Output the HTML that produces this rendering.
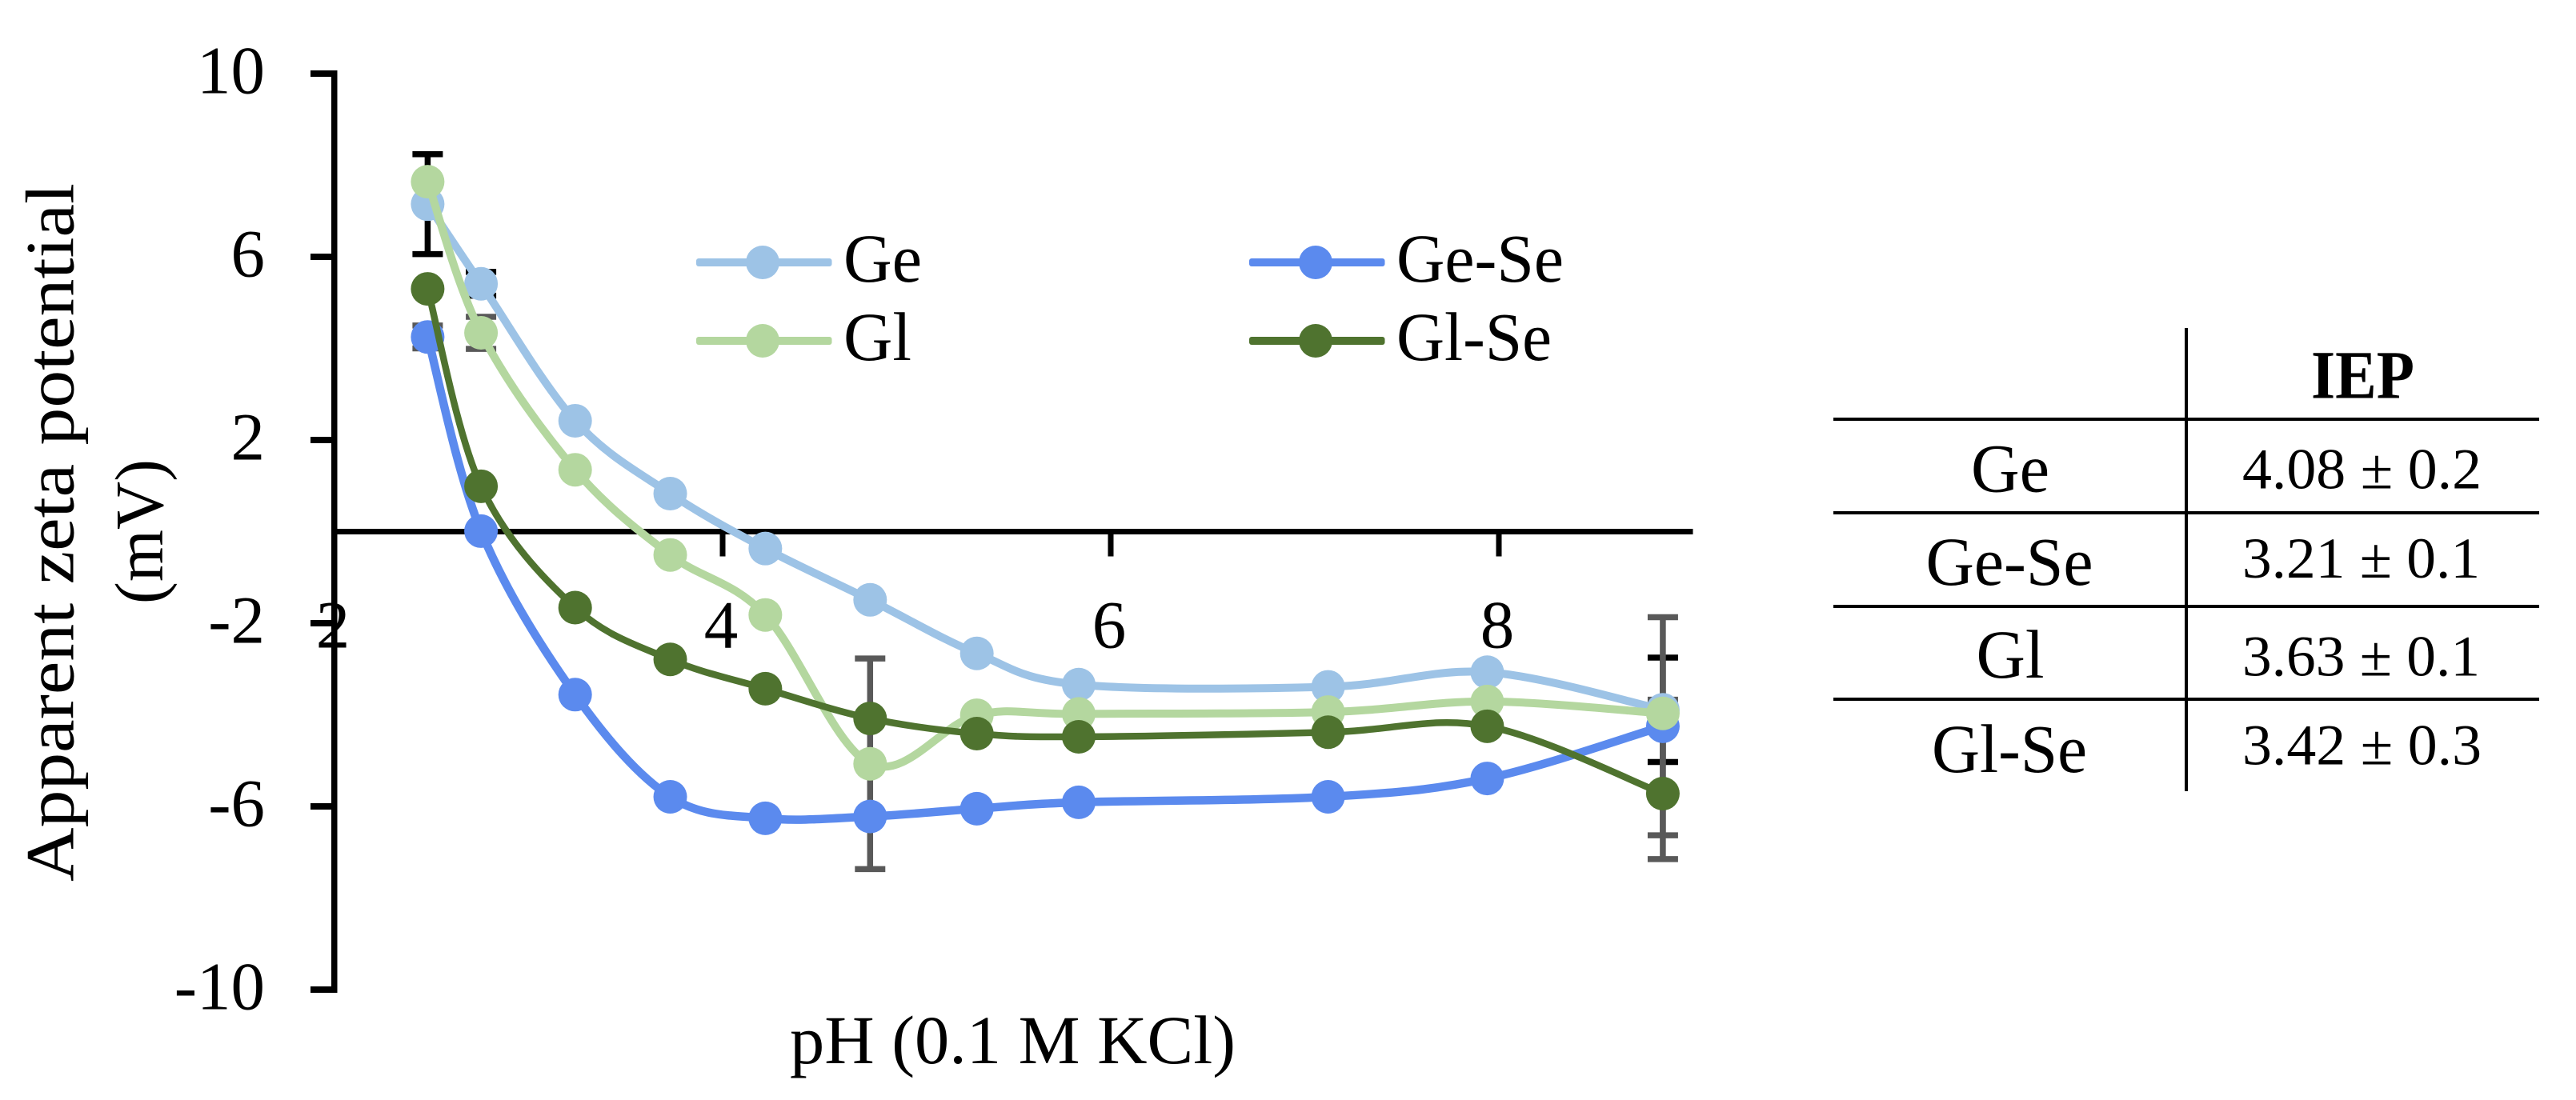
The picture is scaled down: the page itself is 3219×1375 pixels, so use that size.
<!DOCTYPE html>
<html lang="en">
<head>
<meta charset="utf-8">
<title>Apparent zeta potential vs pH</title>
<style>
html,body{margin:0;padding:0;background:#fff;width:3219px;height:1375px;overflow:hidden}
svg{display:block}
text{font-family:"Liberation Serif",serif;fill:#000}
</style>
</head>
<body>
<svg id="chart" xmlns="http://www.w3.org/2000/svg" width="3219" height="1375" viewBox="0 0 3219 1375">
  <rect x="0" y="0" width="3219" height="1375" fill="#fff"/>
  <g id="errorbars"></g>
  <g id="axes"></g>
  <g id="series"></g>
  <g id="legend"></g>
  <text transform="translate(91.5 1102) rotate(-90)" font-size="86" textLength="873" lengthAdjust="spacingAndGlyphs">Apparent zeta potential</text>
  <text transform="translate(203 755) rotate(-90)" font-size="86" textLength="181" lengthAdjust="spacingAndGlyphs">(mV)</text>
  <text x="987" y="1329" font-size="86" textLength="557" lengthAdjust="spacingAndGlyphs">pH (0.1 M KCl)</text>

  <g stroke="#000" stroke-width="4">
    <line x1="2732" y1="410" x2="2732" y2="989"/>
    <line x1="2291" y1="524" x2="3173" y2="524"/>
    <line x1="2291" y1="641" x2="3173" y2="641"/>
    <line x1="2291" y1="758" x2="3173" y2="758"/>
    <line x1="2291" y1="874" x2="3173" y2="874"/>
  </g>
  <g stroke="none">
    <text x="2888" y="497.5" font-size="86" font-weight="bold" textLength="129" lengthAdjust="spacingAndGlyphs">IEP</text>
    <text x="2463" y="614.5" font-size="86" textLength="98" lengthAdjust="spacingAndGlyphs">Ge</text>
    <text x="2406.5" y="731" font-size="86" textLength="209" lengthAdjust="spacingAndGlyphs">Ge-Se</text>
    <text x="2469.5" y="847" font-size="86" textLength="85" lengthAdjust="spacingAndGlyphs">Gl</text>
    <text x="2414" y="965" font-size="86" textLength="194" lengthAdjust="spacingAndGlyphs">Gl-Se</text>
    <text x="2802" y="610.5" font-size="72" textLength="299" lengthAdjust="spacingAndGlyphs">4.08 ± 0.2</text>
    <text x="2802" y="722" font-size="72" textLength="297" lengthAdjust="spacingAndGlyphs">3.21 ± 0.1</text>
    <text x="2802" y="844.5" font-size="72" textLength="297" lengthAdjust="spacingAndGlyphs">3.63 ± 0.1</text>
    <text x="2802" y="955.5" font-size="72" textLength="299" lengthAdjust="spacingAndGlyphs">3.42 ± 0.3</text>
  </g>
</svg>
<script>
const phValues = [2.48, 2.755, 3.24, 3.73, 4.22, 4.76, 5.31, 5.835, 7.12, 7.94, 8.845];
const geValues = [7.15, 5.41, 2.42, 0.83, -0.37, -1.49, -2.66, -3.34, -3.39, -3.07, -3.89];
const geSeValues = [4.25, 0.01, -3.56, -5.79, -6.26, -6.22, -6.05, -5.91, -5.79, -5.39, -4.25];
const glValues = [7.64, 4.34, 1.35, -0.51, -1.82, -5.07, -4.01, -3.98, -3.94, -3.71, -3.97];
const glSeValues = [5.30, 0.99, -1.66, -2.79, -3.43, -4.08, -4.41, -4.48, -4.38, -4.25, -5.72];
const geErrors = [1.09, 0.26, null, null, null, null, null, null, null, null, 1.14];
const geSeErrors = [0.25, null, null, null, null, null, null, null, null, null, 2.38];
const glErrors = [null, 0.35, null, null, null, 2.30, null, null, null, null, 0.30];
const glSeErrors = [null, null, null, null, null, null, null, null, null, null, 1.43];
const xTickValues = [4, 6, 8];
const xLabelValues = ["2", "4", "6", "8"];
const yTickValues = [10, 6, 2, -2, -6, -10];
const seriesNames = ["Ge", "Ge-Se", "Gl", "Gl-Se"];

const SVG_NS = "http://www.w3.org/2000/svg";
const xScale = function (v) { return 418 + (v - 2) * 242.5; };
const yScale = function (v) { return 664.5 - v * 57.25; };
const slug = function (s) { return s.toLowerCase(); };

const seriesStyle = [
  { values: geValues, errors: geErrors, color: "#9DC3E6", width: 10, errColor: "#000000" },
  { values: geSeValues, errors: geSeErrors, color: "#5B8AEE", width: 10.5, errColor: "#595959" },
  { values: glValues, errors: glErrors, color: "#B4D79F", width: 10, errColor: "#595959" },
  { values: glSeValues, errors: glSeErrors, color: "#4F732F", width: 8.5, errColor: "#595959" }
];

function make(tag, attrs, parent) {
  const node = document.createElementNS(SVG_NS, tag);
  Object.keys(attrs).forEach(function (k) { node.setAttribute(k, attrs[k]); });
  parent.appendChild(node);
  return node;
}

function smoothPath(points) {
  let d = "M" + points[0][0].toFixed(2) + " " + points[0][1].toFixed(2);
  for (let i = 0; i < points.length - 1; i++) {
    const p0 = points[Math.max(i - 1, 0)];
    const p1 = points[i];
    const p2 = points[i + 1];
    const p3 = points[Math.min(i + 2, points.length - 1)];
    const c1x = p1[0] + (p2[0] - p0[0]) / 6;
    const c1y = p1[1] + (p2[1] - p0[1]) / 6;
    const c2x = p2[0] - (p3[0] - p1[0]) / 6;
    const c2y = p2[1] - (p3[1] - p1[1]) / 6;
    d += "C" + c1x.toFixed(2) + " " + c1y.toFixed(2) + " " + c2x.toFixed(2) + " " + c2y.toFixed(2) + " " + p2[0].toFixed(2) + " " + p2[1].toFixed(2);
  }
  return d;
}

/* error bars: black first, grey above */
const errorLayer = document.getElementById("errorbars");
[0, 1, 2, 3].forEach(function (si) {
  const s = seriesStyle[si];
  s.errors.forEach(function (err, i) {
    if (err === null) return;
    const cx = xScale(phValues[i]);
    const top = yScale(s.values[i] + err);
    const bot = yScale(s.values[i] - err);
    const bar = make("path", {
      d: "M" + cx + " " + top + "V" + bot + "M" + (cx - 19) + " " + top + "H" + (cx + 19) + "M" + (cx - 19) + " " + bot + "H" + (cx + 19),
      stroke: s.errColor, "stroke-width": 7.5, fill: "none"
    }, errorLayer);
    
    
  });
});

/* axes */
const axesLayer = document.getElementById("axes");
const yAxisLine = make("rect", { x: xScale(2) - 4, y: yScale(10) - 4, width: 7.5, height: yScale(-10) - yScale(10) + 8, fill: "#000" }, axesLayer);


const xAxisLine = make("rect", { x: xScale(2) - 4, y: yScale(0) - 3.5, width: xScale(9) - xScale(2) + 4, height: 7, fill: "#000" }, axesLayer);



yTickValues.forEach(function (v) {
  const tick = make("rect", { x: 388, y: yScale(v) - 4, width: 28, height: 8, fill: "#000" }, axesLayer);
  
  
  const label = make("text", { x: 331, y: yScale(v) + 24.5, "font-size": 85, "text-anchor": "end" }, axesLayer);
  
  
  label.textContent = String(v);
});

xTickValues.forEach(function (v) {
  const tick = make("rect", { x: xScale(v) - 3.5, y: yScale(0), width: 7, height: 31, fill: "#000" }, axesLayer);
  
  
});
xLabelValues.forEach(function (v) {
  const label = make("text", { x: xScale(Number(v)) - 2, y: 809.5, "font-size": 85, "text-anchor": "middle" }, axesLayer);
  
  
  label.textContent = v;
});

/* series */
const seriesLayer = document.getElementById("series");
seriesStyle.forEach(function (s, si) {
  const group = make("g", {}, seriesLayer);
  
  
  const pts = s.values.map(function (v, i) { return [xScale(phValues[i]), yScale(v)]; });
  const line = make("path", { d: smoothPath(pts), fill: "none", stroke: s.color, "stroke-width": s.width, "stroke-linecap": "round" }, group);
  
  
  pts.forEach(function (p) {
    const dot = make("circle", { cx: p[0], cy: p[1], r: 21, fill: s.color }, group);
    
    
  });
});

/* legend */
const legendLayer = document.getElementById("legend");
const legendX = [870, 1561, 870, 1561];
const legendRowY = [328, 328, 426, 426];
const legendOrder = [0, 1, 2, 3];
const legendTextWidth = [98, 209, 85, 194];
legendOrder.forEach(function (si, k) {
  const s = seriesStyle[si];
  const x0 = legendX[k];
  const cy = legendRowY[k];
  const entry = make("g", {}, legendLayer);
  
  
  make("rect", { x: x0, y: cy - 5, width: 169.5, height: 10, rx: 3, fill: s.color }, entry);
  make("circle", { cx: x0 + 83, cy: cy, r: 21, fill: s.color }, entry);
  const label = make("text", { x: x0 + 184, y: cy + 24, "font-size": 86, textLength: legendTextWidth[k], lengthAdjust: "spacingAndGlyphs" }, entry);
  label.textContent = seriesNames[si];
});
</script>
</body>
</html>
